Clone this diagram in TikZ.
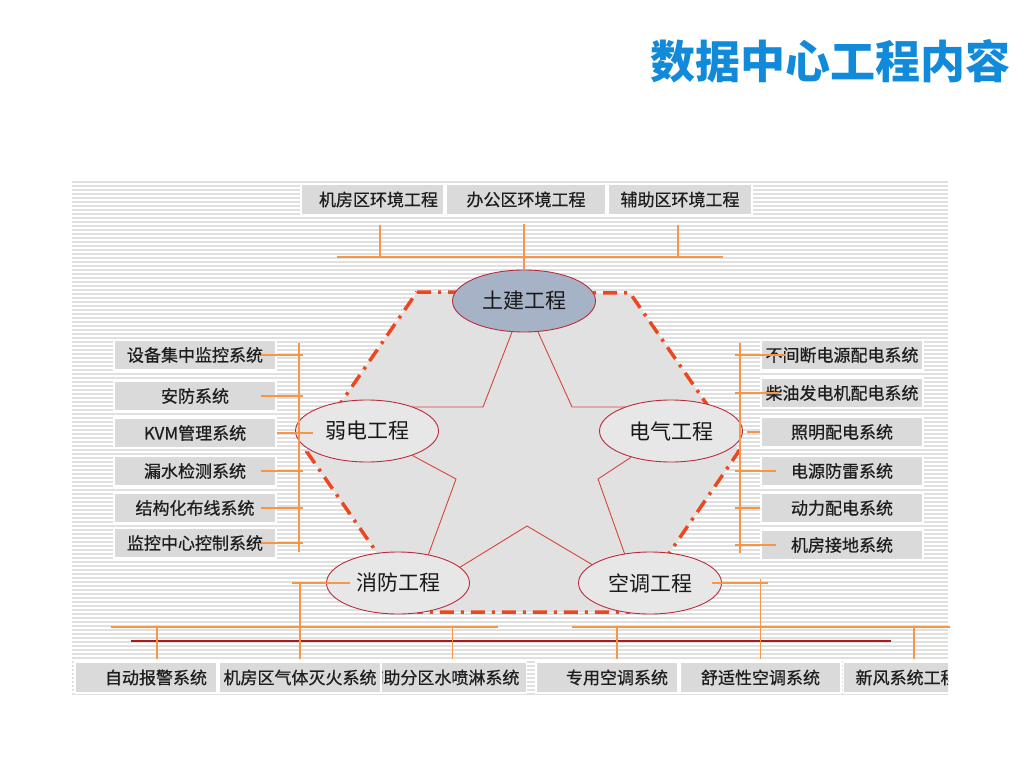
\documentclass[tikz,border=0pt]{standalone}
\usepackage{fontspec}
\setmainfont{Noto Sans CJK SC}
\newfontfamily\boxfont{Noto Sans CJK SC}[FakeBold=0.7]
\usetikzlibrary{positioning,calc,shapes.geometric}
\definecolor{titleblue}{RGB}{18,138,218}
\definecolor{boxgray}{RGB}{218,218,218}
\definecolor{stripegray}{RGB}{224,224,224}
\definecolor{busorange}{RGB}{247,150,70}
\definecolor{hexgray}{RGB}{225,225,225}
\definecolor{dashred}{RGB}{236,72,32}
\definecolor{starred}{RGB}{214,70,60}
\definecolor{rimred}{RGB}{185,45,60}
\definecolor{slate}{RGB}{166,178,198}
\definecolor{ovalgray}{RGB}{231,231,231}
\definecolor{darkline}{RGB}{175,25,25}
\definecolor{inkgray}{RGB}{30,30,30}
\pgfdeclarelayer{back}
\pgfdeclarelayer{mid}
\pgfsetlayers{back,mid,main}
\tikzset{
  sysbox/.style={fill=boxgray, draw=white, line width=1.2pt, text=inkgray, inner sep=0pt,
    minimum height=30pt, font=\boxfont\fontsize{17}{19}\selectfont},
  sidebox/.style={sysbox, minimum width=162pt},
  oval/.style={ellipse, draw=rimred, line width=0.9pt, fill=ovalgray, minimum width=143pt,
    minimum height=62pt, font=\fontsize{21}{24}\selectfont, text=black!90},
  bus/.style={draw=busorange, line width=1.5pt},
  starline/.style={draw=starred, line width=0.9pt},
  rim/.style={draw=dashred, line width=3.5pt, dash pattern=on 14pt off 7pt on 3pt off 7pt},
  stripe/.style={draw=stripegray, line width=1.3pt}
}

\begin{document}
\begin{tikzpicture}[x=1pt, y=-1pt]
  \useasboundingbox (0,0) rectangle (1024,768);

  % title
  \node[anchor=east, text=titleblue, font=\fontsize{45}{50}\selectfont\bfseries] (title) at (1014,61) {数据中心工程内容};

  % striped panel and the hexagon
  \begin{pgfonlayer}{back}
    \foreach \y in {182,186,...,694}
      \draw[stripe] (72,\y) -- (948,\y);
    \fill[hexgray] (417,292) -- (630,293) -- (739,451) -- (629,612) -- (418,612) -- (307,452) -- cycle;
    \draw[rim] (417,292) -- (630,293) -- (739,451) -- (629,612) -- (418,612) -- (307,452) -- cycle;
  \end{pgfonlayer}

  % top boxes
  \node[sysbox, minimum width=143pt, minimum height=31pt] (envroom) at (372.5,199.5) {\hspace{12pt}机房区环境工程};
  \node[sysbox, minimum width=160pt, minimum height=31pt] (envoffice) at (526,199.5) {办公区环境工程};
  \node[sysbox, minimum width=144pt, minimum height=31pt] (envaux) at (680,199.5) {辅助区环境工程\hspace{14pt}};

  % left boxes
  \node[sidebox] (l1) at (195,355) {设备集中监控系统};
  \node[sidebox] (l2) at (195,396) {安防系统};
  \node[sidebox] (l3) at (195,433) {KVM管理系统};
  \node[sidebox] (l4) at (195,471) {漏水检测系统};
  \node[sidebox] (l5) at (195,508) {结构化布线系统};
  \node[sidebox] (l6) at (195,543) {监控中心控制系统};

  % right boxes
  \node[sidebox] (r1) at (842,355) {不间断电源配电系统};
  \node[sidebox] (r2) at (842,393) {柴油发电机配电系统};
  \node[sidebox] (r3) at (842,432) {照明配电系统};
  \node[sidebox] (r4) at (842,471) {电源防雷系统};
  \node[sidebox] (r5) at (842,508) {动力配电系统};
  \node[sidebox] (r6) at (842,545) {机房接地系统};

  % bottom boxes
  \node[sysbox, minimum height=31pt, text width=153pt, align=right, inner xsep=7pt, anchor=east] (bot3) at (527,677.5) {辅助分区水喷淋系统};
  \node[sysbox, minimum width=142pt, minimum height=31pt] (bot1) at (146,677.5) {\hspace{20pt}自动报警系统};
  \node[sysbox, minimum width=162pt, minimum height=31pt] (bot2) at (300,677.5) {机房区气体灭火系统};
  \node[sysbox, minimum width=142pt, minimum height=31pt] (bot4) at (607,677.5) {\hspace{20pt}专用空调系统};
  \node[sysbox, minimum width=161pt, minimum height=31pt] (bot5) at (760.5,677.5) {舒适性空调系统};
  \begin{scope}
    \clip (0,0) rectangle (948,768);
    \node[sysbox, minimum height=31pt, inner xsep=12pt, anchor=west] (bot6) at (843,677.5) {新风系统工程};
  \end{scope}

  % the five works
  \node[oval, fill=slate] (tujian) at (524,301) {土建工程};
  \node[oval] (ruodian) at (367,431) {弱电工程};
  \node[oval] (dianqi) at (671,431) {电气工程};
  \node[oval] (xiaofang) at (398,583) {消防工程};
  \node[oval] (kongtiao) at (650,583) {空调工程};

  % star
  \coordinate (v1) at (483,407);
  \coordinate (v2) at (572,407);
  \coordinate (v3) at (598,479);
  \coordinate (v4) at (527,526);
  \coordinate (v5) at (456,479);
  \begin{pgfonlayer}{mid}
    \draw[starline] (tujian) -- (v1) -- (ruodian |- v1);
    \draw[starline] (tujian) -- (v2) -- (dianqi |- v2);
    \draw[starline] (ruodian) -- (v5) -- ($(xiaofang)+(20,0)$);
    \draw[starline] ($(xiaofang)+(20,10)$) -- (v4) -- ($(kongtiao)+(-20,4)$);
    \draw[starline] ($(kongtiao)+(-15,0)$) -- (v3) -- (dianqi);
  \end{pgfonlayer}

  % top bus
  \coordinate (topbusL) at (337,257);
  \coordinate (topbusR) at (723,257);
  \draw[bus] (topbusL) -- (topbusR);
  \draw[bus] ([xshift=7.5pt,yshift=-9pt]envroom.south) -- ([xshift=7.5pt]envroom.south |- topbusL);
  \draw[bus] (tujian.north) -- ([yshift=-8pt]tujian.north |- envoffice.south);
  \draw[bus, line width=2.2pt] ([xshift=-2pt,yshift=-9pt]envaux.south) -- ([xshift=-2pt]envaux.south |- topbusL);

  % left bus
  \coordinate (lbusT) at (299,343);
  \coordinate (lbusB) at (299,552);
  \draw[bus] (lbusT) -- (lbusB);
  \foreach \n in {l1,l2,l4,l5,l6}
    \draw[bus] ([xshift=-16pt]\n.east) -- ([xshift=4pt]\n.east -| lbusT);
  \draw[bus] (l3.east) -- ([xshift=18pt]ruodian.west |- l3.east);

  % right bus
  \coordinate (rbusT) at (740,343);
  \coordinate (rbusB) at (740,553);
  \draw[bus] (rbusT) -- (rbusB);
  \draw[bus] ([xshift=-5pt]r1.west -| rbusT) -- ([xshift=26pt]r1.west);
  \draw[bus] ([xshift=-5pt]r2.west -| rbusT) -- ([xshift=19pt]r2.west);
  \draw[bus] ([xshift=4pt]dianqi.east |- r3.west) -- (r3.west);
  \draw[bus] ([xshift=-5pt]r4.west -| rbusT) -- ([xshift=16pt]r4.west);
  \draw[bus] ([xshift=-5pt]r5.west -| rbusT) -- (r5.west);
  \draw[bus] ([xshift=-5pt]r6.west -| rbusT) -- ([xshift=16pt]r6.west);

  % bottom buses
  \coordinate (lowbusL) at (111,627);
  \coordinate (lowbusM) at (498,627);
  \coordinate (lowbusN) at (572,627);
  \coordinate (lowbusR) at (950,627);
  \coordinate (redL) at (131,641);
  \coordinate (redR) at (891,641);
  \draw[bus] (lowbusL) -- (lowbusM);
  \draw[bus] (lowbusN) -- (lowbusR);
  \draw[draw=darkline, line width=1.2pt] (redL) -- (redR);
  \draw[bus] ([xshift=11pt,yshift=2pt]bot1.north) -- ([xshift=11pt]bot1.north |- lowbusL);
  \draw[bus] ([xshift=24pt]xiaofang.west) -- ([xshift=-34pt]xiaofang.west);
  \draw[bus] ([yshift=2pt]bot2.north) -- (bot2.north |- xiaofang.west);
  \draw[bus] ([xshift=9.5pt,yshift=2pt]bot3.north) -- ([xshift=9.5pt]bot3.north |- lowbusL);
  \draw[bus] ([xshift=10pt,yshift=2pt]bot4.north) -- ([xshift=10pt]bot4.north |- lowbusN);
  \draw[bus] ([xshift=-10pt]kongtiao.east) -- ([xshift=46pt]kongtiao.east);
  \draw[bus] ([yshift=2pt]bot5.north) -- ([yshift=4pt]bot5.north |- kongtiao.east);
  \draw[bus, line width=2.5pt] ([xshift=7.5pt,yshift=2pt]bot6.north) -- ([xshift=7.5pt]bot6.north |- lowbusR);
\end{tikzpicture}
\end{document}
